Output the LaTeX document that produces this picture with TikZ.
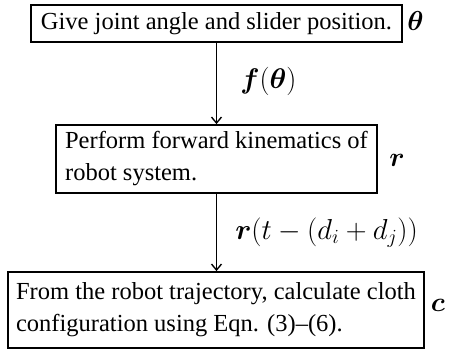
\documentclass[tikz,border=0pt]{standalone}
\usepackage{fontspec}
\setmainfont{Liberation Serif}
\usepackage{amsmath}
\usepackage{bm}
\usepackage{graphicx}
\usetikzlibrary{arrows.meta}
\tikzset{
  stepbox/.style={draw, line width=1.7pt, inner sep=0pt, align=left,
    font=\fontsize{24.5}{32}\selectfont},
  lbl/.style={inner sep=0pt, font=\fontsize{24.5}{32}\selectfont},
  flow/.style={line width=1.6pt, -{Straight Barb[length=6pt,width=10pt,line width=1.4pt]}}
}
\begin{document}
\begin{tikzpicture}[x=1pt,y=-1pt]
\useasboundingbox (0,0) rectangle (451,352);
\node[stepbox, minimum width=371pt, minimum height=37pt] (b1) at (216.5,23.5)
  {Give joint angle and slider position.};
\node[stepbox, minimum width=321pt, minimum height=68pt] (b2) at (216.5,159)
  {Perform forward kinematics of\\robot system.};
\node[stepbox, minimum width=416pt, minimum height=76pt] (b3) at (216,310)
  {From the robot trajectory, calculate cloth\\configuration using Eqn. (3)--(6).};
\node[lbl] (t1) at (415.5,21) {\scalebox{1.1}{$\bm{\theta}$}};
\node[lbl] (t2) at (397,160) {\scalebox{1.1}{$\bm{r}$}};
\node[lbl] (t3) at (438,305) {\scalebox{1.1}{$\bm{c}$}};
\draw[flow] (b1.south -| 216.5,0) -- (b2.north -| 216.5,0)
  node[lbl, pos=0.48, anchor=west, xshift=23pt] (l1) {\scalebox{1.14}{$\bm{f}(\bm{\theta})$}};
\draw[flow] (b2.south -| 216.5,0) -- (b3.north -| 216.5,0)
  node[lbl, pos=0.5, anchor=west, xshift=18pt] (l2) {\scalebox{1.16}{$\bm{r}(t-(d_i+d_j))$}};
\end{tikzpicture}
\end{document}
